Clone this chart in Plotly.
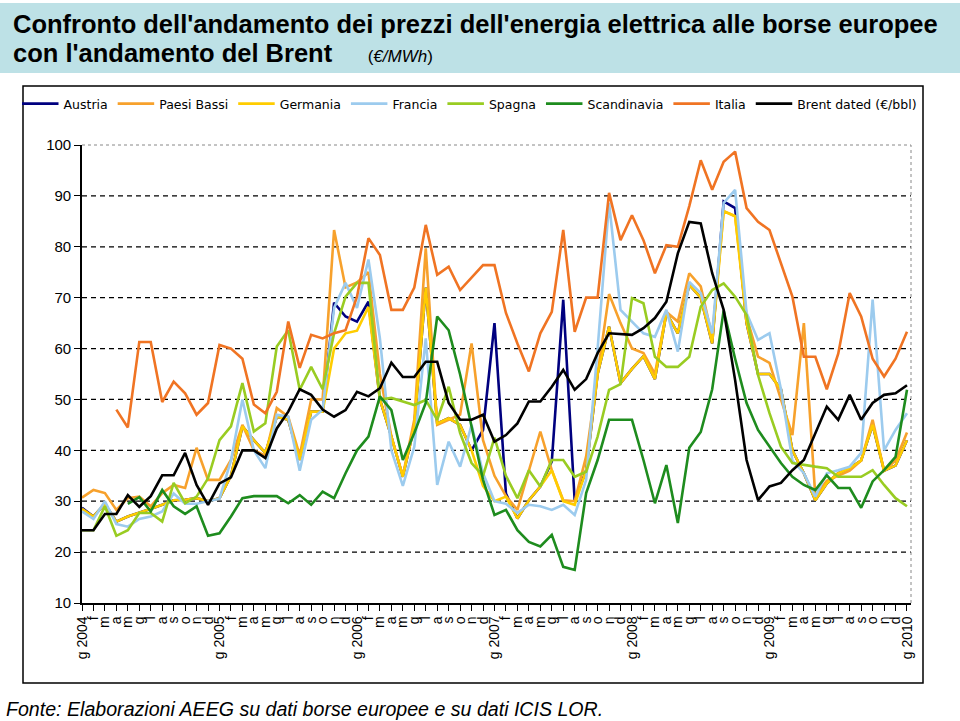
import plotly.graph_objects as go

years = ["2004", "2005", "2006", "2007", "2008", "2009"]
months = ["f", "m", "a", "m", "g", "l", "a", "s", "o", "n", "d"]
tick_labels = []
for y in years:
    tick_labels.append("g " + y)
    tick_labels.extend(months)
tick_labels.append("g 2010")
x_idx = list(range(len(tick_labels)))

austria = [28.7, 27, 29.5, 26, 27, 27.7, 28.5, 29.3, 30.2, 30.3, 30.6, 30, 30.6, 35, 44.7, 42, 39.5, 46.6, 46, 38.1,
           47.6, 47.6, 69, 66.3, 65.3, 69.2, 50, 42.7, 34.8, 44.7, 72, 45.3, 46.3, 45, 40, 44, 65, 31.5, 26.6, 30.2,
           32.9, 37.8, 69.6, 30, 36.1, 55, 64.3, 53.2, 56, 58.5, 54, 67, 63, 72.5, 70, 61, 88.9, 87.6, 65, 55,
           55, 52, 40, 35.5, 30.2, 33.5, 35.5, 36.5, 38, 45, 36, 37, 42]
paesi_bassi = [30.7, 32.2, 31.6, 28.3, 30.6, 30.9, 29, 31.6, 33.2, 32.6, 40.5, 34.2, 34.2, 38.1, 45, 40, 39, 48.3, 46.6, 39,
               50, 50, 83.3, 72, 73, 75, 55, 42.7, 35, 46, 79.7, 45, 46, 47, 61, 42, 35, 31, 28.3, 36,
               43.7, 36.1, 30.2, 30, 38.8, 55, 70.7, 65, 60, 59.1, 55, 67.2, 65.3, 74.8, 72.2, 62.3, 87, 86, 66.3, 58.4,
               57.2, 50, 43, 65, 31, 34, 35, 36, 38, 46, 36, 38, 43.5]
germania = [28.5, 27, 29.5, 26, 27, 27.7, 28.5, 29.3, 30.2, 30.3, 30.6, 30, 30.6, 35, 44.7, 42, 39.5, 46.6, 46, 38.1,
            47.6, 47.6, 60, 63, 63.5, 68.2, 50, 42.7, 34.8, 44.7, 72, 45.3, 46.3, 45, 40, 33, 30, 30.9, 26.6, 30.2,
            32.9, 36.1, 30, 29.3, 36.1, 55, 64.3, 53.2, 56, 58.5, 54, 67, 63, 72.5, 70, 61, 87, 86, 65, 55,
            55, 52, 40, 35.5, 30.2, 33.5, 35.5, 36.5, 38, 45, 36, 37, 42]
francia = [28, 26.5, 30, 25.5, 25, 26.5, 27, 28, 31.5, 29.5, 29.5, 30, 30.5, 38, 50, 40, 36.5, 47, 46.6, 36,
           46, 48, 68, 72.9, 68, 77.5, 62, 40, 33, 40.7, 62, 33.2, 41.7, 36.8, 45, 35.5, 30, 29.5, 27.7, 29.3,
           29, 28.3, 29.3, 27.3, 34.2, 60, 88.6, 67.6, 65.3, 63, 62.3, 67.6, 59.4, 73.1, 70.9, 63, 88.6, 91.2, 67, 61.7,
           63, 52, 38, 35.5, 30.9, 35.5, 36.1, 36.8, 39.5, 69.6, 40, 44, 47.3]
spagna = [24.3, 24.3, 29, 23.2, 24.3, 27.7, 27.7, 26, 33.6, 29.6, 30.9, 34.5, 42, 44.7, 53.2, 43.7, 45.3, 60.4, 63.6, 51.9,
          56.4, 52, 63, 70.2, 72.9, 72.9, 50, 50.3, 49.6, 48.9, 49.9, 46, 52.5, 43.4, 37.5, 35, 42.5, 35, 30.6, 36.1,
          32.9, 38.1, 38.1, 34.8, 35.8, 42.7, 51.9, 53, 69.9, 68.9, 58.4, 56.4, 56.4, 58.4, 68.2, 71.5, 72.8, 70.2, 66.6, 54.8,
          47.3, 40.7, 37.5, 37.1, 36.8, 36.5, 34.8, 34.8, 34.8, 36.1, 33.2, 30.6, 29]
scandinavia = [None, None, None, None, 29.5, 30.8, 28, 32.2, 29, 27.5, 29, 23.2, 23.7, 27, 30.6, 31, 31, 31, 29.6, 31.2,
               29.3, 31.9, 30.6, 35.5, 40, 42.7, 50.6, 47.9, 38.1, 43.4, 49.3, 66.3, 63.6, 54.9, 44.7, 34.2, 27.3, 28.3, 24.3, 22,
               21.1, 23.4, 17.1, 16.5, 31.6, 38.1, 46, 46, 46, 38.1, 29.6, 37.1, 25.7, 40.5, 43.6, 52, 67.5, 58, 49.3, 44,
               40.7, 37.5, 34.8, 33.2, 32.2, 35.1, 32.6, 32.6, 28.7, 33.9, 36.1, 38.7, 51.9]
italia = [None, None, None, 48, 44.5, 61.3, 61.3, 49.5, 53.5, 51.2, 47, 49.3, 60.7, 60, 58, 49, 47.3, 51.5, 65.3, 56.2,
          62.7, 62, 63, 63.6, 70.2, 81.7, 78.4, 67.6, 67.6, 72, 84.3, 74.5, 76.1, 71.5, 74, 76.4, 76.4, 67, 61, 55.5,
          63, 67.2, 83.3, 63.3, 70, 70, 90.6, 81.3, 86.2, 81.3, 74.8, 80.3, 80, 88, 97, 91.2, 96.7, 98.7, 87.6, 84.9,
          83.3, 76.8, 70.2, 58.4, 58.4, 52, 59, 70.9, 66.3, 58, 54.5, 58, 63.3]
brent = [24.3, 24.3, 27.5, 27.5, 31.2, 28.9, 31.0, 35.1, 35.1, 39.5, 33.2, 29.3, 33.5, 34.7, 40.0, 40.0, 38.5, 44.3, 47.6, 52.0,
         50.9, 48.0, 46.6, 47.9, 51.5, 50.6, 52.2, 57.2, 54.4, 54.4, 57.4, 57.4, 49.3, 46.0, 46.0, 47.0, 41.7, 43.0, 45.3, 49.6,
         49.6, 52.5, 55.8, 51.9, 54.0, 59.1, 63.0, 62.8, 62.7, 64.0, 66.0, 69.2, 78.7, 84.9, 84.6, 74.8, 67.6, 53.8, 38.1, 30.2,
         32.9, 33.6, 36.1, 38.1, 43.4, 48.6, 46.0, 50.9, 46.0, 49.3, 50.9, 51.2, 52.8]

series = [
    ("Austria", austria, "#00007f"),
    ("Paesi Bassi", paesi_bassi, "#f7a12c"),
    ("Germania", germania, "#ffcc00"),
    ("Francia", francia, "#9ccbee"),
    ("Spagna", spagna, "#99cc22"),
    ("Scandinavia", scandinavia, "#1e8c1e"),
    ("Italia", italia, "#f07423"),
    ("Brent dated (€/bbl)", brent, "#000000"),
]
y_ticks = [10, 20, 30, 40, 50, 60, 70, 80, 90, 100]
grid_vals = [20, 30, 40, 50, 60, 70, 80, 90]

W, H = 960, 721
ML, MR, MT, MB = 82, 49, 145, 118
PW, PH = W - ML - MR, H - MT - MB


def px(xp):
    return (xp - ML) / PW


def py(yp):
    return (H - MB - yp) / PH


fig = go.Figure()
for name, vals, col in series:
    fig.add_trace(go.Scatter(x=x_idx, y=vals, name=name, mode="lines",
                             line=dict(color=col, width=2.6), connectgaps=False))

shapes = []
shapes.append(dict(type="rect", xref="paper", yref="paper", x0=px(0), x1=px(960), y0=py(73), y1=py(3),
                   fillcolor="#bde1e6", line=dict(width=0), layer="below"))
shapes.append(dict(type="rect", xref="paper", yref="paper", x0=px(23), x1=px(923), y0=py(683), y1=py(86),
                   line=dict(color="black", width=1.5), layer="below"))
for g in grid_vals:
    shapes.append(dict(type="line", xref="paper", yref="y", x0=0, x1=1, y0=g, y1=g,
                       line=dict(color="black", width=1.3, dash="5px,4px"), layer="below"))
shapes.append(dict(type="line", xref="paper", yref="paper", x0=0, x1=1, y0=1, y1=1,
                   line=dict(color="#888888", width=1, dash="dot"), layer="below"))
shapes.append(dict(type="line", xref="paper", yref="paper", x0=1, x1=1, y0=0, y1=1,
                   line=dict(color="#888888", width=1, dash="dot"), layer="below"))

annotations = [
    dict(text="<b>Confronto dell'andamento dei prezzi dell'energia elettrica alle borse europee</b>",
         xref="paper", yref="paper", x=px(11), y=py(24), xanchor="left", yanchor="middle", showarrow=False,
         font=dict(family="Liberation Sans, Arial", size=25.5, color="black")),
    dict(text="<b>con l'andamento del Brent</b>     <span style='font-size:17px'>(<i>€/MWh</i>)</span>",
         xref="paper", yref="paper", x=px(11), y=py(53), xanchor="left", yanchor="middle", showarrow=False,
         font=dict(family="Liberation Sans, Arial", size=25.5, color="black")),
    dict(text="<i>Fonte: Elaborazioni AEEG su dati borse europee e su dati ICIS LOR.</i>",
         xref="paper", yref="paper", x=px(4), y=py(709), xanchor="left", yanchor="middle", showarrow=False,
         font=dict(family="Liberation Sans, Arial", size=19.6, color="black")),
]

fig.update_layout(
    width=W, height=H,
    margin=dict(l=ML, r=MR, t=MT, b=MB),
    paper_bgcolor="white", plot_bgcolor="white",
    shapes=shapes, annotations=annotations,
    showlegend=True,
    legend=dict(orientation="h", x=px(17), y=py(89), xanchor="left", yanchor="top",
                font=dict(family="DejaVu Sans", size=12.5, color="black"),
                itemwidth=36.5, tracegroupgap=0, bgcolor="rgba(0,0,0,0)"),
    xaxis=dict(range=[0, 72.35], tickmode="array", tickvals=x_idx, ticktext=tick_labels,
               tickangle=-90, ticks="outside", ticklen=6, tickwidth=1.3, tickcolor="black",
               showline=True, linecolor="black", linewidth=1.6, showgrid=False, zeroline=False,
               tickfont=dict(family="Liberation Sans, Arial", size=14, color="black")),
    yaxis=dict(range=[10, 100], tickmode="array", tickvals=y_ticks,
               ticks="outside", ticklen=6, tickwidth=1.3, tickcolor="black",
               showline=True, linecolor="black", linewidth=1.6, showgrid=False, zeroline=False,
               tickfont=dict(family="Liberation Sans, Arial", size=15, color="black")),
)

fig.write_html("out.html")
